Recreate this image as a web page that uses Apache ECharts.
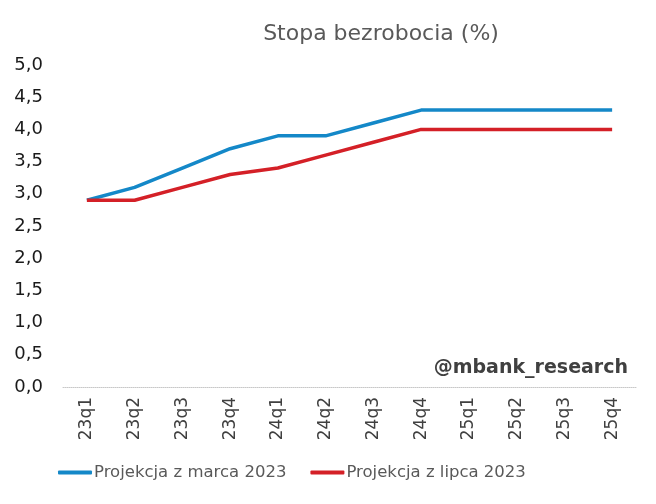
<!DOCTYPE html>
<html>
<head>
<meta charset="utf-8">
<script src="https://cdn.jsdelivr.net/npm/echarts@6/dist/echarts.min.js"></script>
<style>
html, body { margin: 0; padding: 0; background: #fff; }
#chart { width: 656px; height: 504px; }
</style>
</head>
<body>
<div id="chart"></div>
<script>
// dane
const categories = ["23q1", "23q2", "23q3", "23q4", "24q1", "24q2", "24q3", "24q4", "25q1", "25q2", "25q3", "25q4"];
const marchProjection = [2.9, 3.1, 3.4, 3.7, 3.9, 3.9, 4.1, 4.3, 4.3, 4.3, 4.3, 4.3];
const julyProjection = [2.9, 2.9, 3.1, 3.3, 3.4, 3.6, 3.8, 4.0, 4.0, 4.0, 4.0, 4.0];
const seriesNames = ["Projekcja z marca 2023", "Projekcja z lipca 2023"];

const FONT = "DejaVu Sans";
const myChart = echarts.init(document.getElementById("chart"), null, { renderer: "canvas" });
const option = {
	animation: false,
	backgroundColor: "#ffffff",
	textStyle: { fontFamily: FONT },
	title: {
		text: "Stopa bezrobocia (%)",
		left: 376,
		top: 18,
		textAlign: "center",
		textStyle: { fontFamily: FONT, fontSize: 22, fontWeight: "normal", color: "#595959" }
	},
	legend: {
		bottom: 18,
		left: 53,
		itemGap: 24,
		itemWidth: 34,
		itemHeight: 4,
		icon: "roundRect",
		textStyle: { fontFamily: FONT, fontSize: 16.5, color: "#595959", padding: [0, 0, 0, -3] },
		data: seriesNames
	},
	grid: { left: 63, right: 20, top: 65, bottom: 117, containLabel: false },
	graphic: [
		{
			type: "text",
			right: 28,
			top: 359,
			style: { text: "@mbank_research", font: "bold 19px " + FONT, fill: "#404040" }
		}
	],
	xAxis: {
		type: "category",
		data: categories,
		boundaryGap: true,
		axisTick: { show: false },
		axisLine: { lineStyle: { color: "#c8c8c8", width: 1, type: "dotted" } },
		axisLabel: { rotate: 90, margin: 10, fontSize: 17, color: "#404040", fontFamily: FONT, interval: 0 }
	},
	yAxis: {
		type: "value",
		min: 0,
		max: 5,
		interval: 0.5,
		splitLine: { show: false },
		axisLine: { show: false },
		axisTick: { show: false },
		axisLabel: {
			margin: 20,
			fontSize: 18,
			color: "#1a1a1a",
			fontFamily: FONT,
			formatter: function (v) { return v.toFixed(1).replace(".", ","); }
		}
	},
	series: [
		{
			name: seriesNames[0],
			type: "line",
			data: marchProjection,
			symbol: "none",
			itemStyle: { color: "#1488c8" },
			lineStyle: { color: "#1488c8", width: 3.5 }
		},
		{
			name: seriesNames[1],
			type: "line",
			data: julyProjection,
			symbol: "none",
			itemStyle: { color: "#d42027" },
			lineStyle: { color: "#d42027", width: 3.5 }
		}
	]
};
myChart.setOption(option);
</script>
</body>
</html>
